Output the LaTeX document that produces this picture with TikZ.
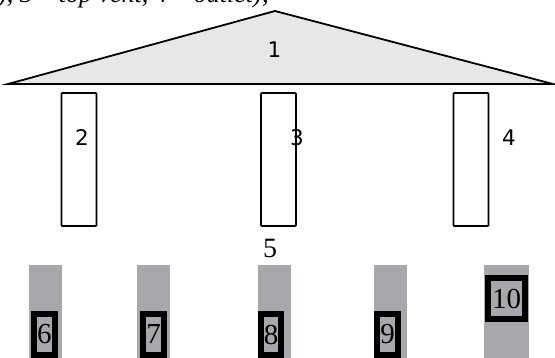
\documentclass[tikz,border=0pt]{standalone}
\usepackage{fontspec}
\setmainfont{Liberation Serif}
\newfontfamily\labfont{DejaVu Sans}
\definecolor{trifill}{HTML}{E6E7E9}
\definecolor{bargray}{HTML}{A7A8AC}
\begin{document}
\begin{tikzpicture}[x=1pt,y=-1pt,
  pillar/.style={draw=black,line width=1.8pt,fill=white,rounded corners=0.8pt,minimum width=35pt,minimum height=133pt,inner sep=0pt},
  sanslab/.style={font=\labfont\fontsize{21.5}{21.5}\selectfont,inner sep=0pt},
  bar/.style={fill=bargray,draw=none,inner sep=0pt,minimum width=33pt,minimum height=100pt,anchor=north},
  numbox/.style={draw=black,line width=6pt,fill=bargray,inner sep=0pt,minimum width=21pt,minimum height=41pt,font=\fontsize{29}{29}\selectfont},
]
\useasboundingbox (0,0) rectangle (555,358);
\clip (0,0) rectangle (555,358);
% clipped caption fragment at the top
\node[anchor=base west,inner sep=0pt,font=\itshape\fontsize{26}{26}\selectfont] (cap) at (-2,3) {), 3 -- top vent, 4 -- outlet);};
% roof
\coordinate (apex) at (275,11);
\coordinate (bl) at (8,84);
\coordinate (br) at (553,84);
\draw[fill=trifill,line width=1.8pt,line join=miter] (bl) -- (apex) -- (br) -- cycle;
\node[sanslab] (n1) at (274.5,50) {1};
% pillars
\node[pillar] (p2) at (79,159.5) {};
\node[pillar] (p3) at (278.5,159.5) {};
\node[pillar] (p4) at (471,159.5) {};
\node[sanslab] (n2) at (82,138) {2};
\node[sanslab] (n3) at (297,138) {3};
\node[sanslab] (n4) at (509,138) {4};
% label 5
\node[inner sep=0pt,font=\fontsize{28}{28}\selectfont] (n5) at (270,248) {5};
% gray bars
\node[bar] (b6) at (45.5,265) {};
\node[bar] (b7) at (153.5,265) {};
\node[bar] (b8) at (274.5,265) {};
\node[bar] (b9) at (390.5,265) {};
\node[bar,minimum width=45pt] (b10) at (506.5,265) {};
% numbered boxes
\node[numbox] (n6) at (44.5,334.5) {6};
\node[numbox] (n7) at (153.5,334.5) {7};
\node[numbox,minimum width=20pt] (n8) at (271,334.5) {8};
\node[numbox] (n9) at (387.5,334.5) {9};
\node[numbox,minimum width=37pt] (n10) at (506.5,298.5) {10};
\end{tikzpicture}
\end{document}
